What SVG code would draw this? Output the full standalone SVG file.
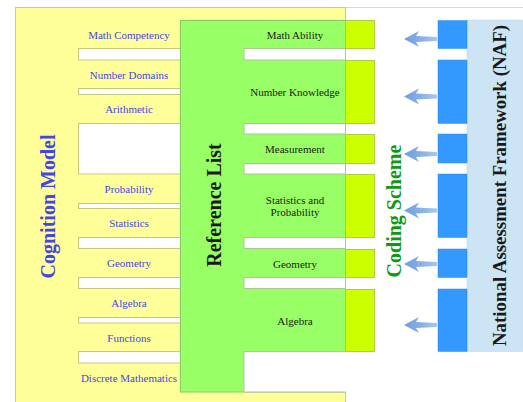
<svg xmlns="http://www.w3.org/2000/svg" width="523" height="402" viewBox="0 0 523 402">
<style>
.lbl{font-family:"Liberation Serif","Times New Roman",serif;font-size:11px;text-anchor:middle}
.blue{fill:#4545e6}
.blk{fill:#1a1a1a}
.title{font-family:"Liberation Serif","Times New Roman",serif;font-weight:bold;font-size:20px;text-anchor:middle}
.gap{fill:#ffffff;stroke:#c8c87a;stroke-width:1}
.ggap{fill:#ffffff;stroke:#a8c890;stroke-width:1}
.lime{fill:#ccff00;stroke:#b0cc44;stroke-width:1}
.bblk{fill:#3399ff;stroke:#2f88e0;stroke-width:0.5}
.arr{fill:url(#ag)}
</style>
<defs>
<linearGradient id="ag" x1="0" y1="0" x2="1" y2="0">
<stop offset="0" stop-color="#6f9edd"/>
<stop offset="0.5" stop-color="#86afe6"/>
<stop offset="1" stop-color="#a9c8f0"/>
</linearGradient>
</defs>
<rect width="523" height="402" fill="#ffffff"/>
<line x1="15" y1="7.5" x2="523" y2="7.5" stroke="#d8d8d8" stroke-width="1"/>

<g id="cognition-model">
<rect x="15.5" y="7.5" width="330" height="400" fill="#ffff99" stroke="#cccc77" stroke-width="1"/>
<rect class="gap" x="78.5" y="48.5" width="110" height="11.5"/>
<rect class="gap" x="78.5" y="88.5" width="110" height="6"/>
<rect class="gap" x="78.5" y="123.5" width="110" height="50.5"/>
<rect class="gap" x="78.5" y="203.5" width="110" height="5"/>
<rect class="gap" x="78.5" y="237.5" width="110" height="11"/>
<rect class="gap" x="78.5" y="277.5" width="110" height="11"/>
<rect class="gap" x="78.5" y="317.5" width="110" height="5.5"/>
<rect class="gap" x="78.5" y="351.5" width="110" height="11.5"/>
<text class="title blue" transform="translate(55,206.5) rotate(-90)" fill="#3333ee">Cognition Model</text>
<text class="lbl blue" x="129" y="38.5">Math Competency</text>
<text class="lbl blue" x="129" y="78.5">Number Domains</text>
<text class="lbl blue" x="129" y="112.5">Arithmetic</text>
<text class="lbl blue" x="129" y="192.5">Probability</text>
<text class="lbl blue" x="129" y="226.5">Statistics</text>
<text class="lbl blue" x="129" y="267">Geometry</text>
<text class="lbl blue" x="129" y="306.5">Algebra</text>
<text class="lbl blue" x="129" y="341.5">Functions</text>
<text class="lbl blue" x="129" y="381.5">Discrete Mathematics</text>
</g>

<g id="reference-list">
<rect x="180.5" y="20.5" width="165" height="371.5" fill="#99ff66" stroke="#88cc66" stroke-width="1"/>
<rect class="ggap" x="244" y="48.5" width="101.5" height="11.5"/>
<rect class="ggap" x="244" y="123.5" width="101.5" height="10.5"/>
<rect class="ggap" x="244" y="163.5" width="101.5" height="10.5"/>
<rect class="ggap" x="244" y="237.5" width="101.5" height="11"/>
<rect class="ggap" x="244" y="277.5" width="101.5" height="11"/>
<rect x="244" y="351.5" width="101.5" height="40.5" fill="#ffffff" stroke="#bbbbbb" stroke-width="1"/>
<rect x="345" y="352" width="2" height="39.5" fill="#ffffff"/>
<text class="title blk" transform="translate(221,205) rotate(-90)">Reference List</text>
<text class="lbl blk" x="295" y="38.5">Math Ability</text>
<text class="lbl blk" x="295" y="95.5">Number Knowledge</text>
<text class="lbl blk" x="295" y="152.5">Measurement</text>
<text class="lbl blk" x="295" y="204">Statistics and</text>
<text class="lbl blk" x="295" y="215.5">Probability</text>
<text class="lbl blk" x="295" y="267.5">Geometry</text>
<text class="lbl blk" x="295" y="324.5">Algebra</text>
</g>

<g id="coding-scheme">
<rect class="lime" x="345.5" y="20.5" width="29" height="28"/>
<rect class="lime" x="345.5" y="60.5" width="29" height="63"/>
<rect class="lime" x="345.5" y="134.5" width="29" height="29"/>
<rect class="lime" x="345.5" y="174.5" width="29" height="63"/>
<rect class="lime" x="345.5" y="249.5" width="29" height="28"/>
<rect class="lime" x="345.5" y="289.5" width="29" height="62"/>
<text class="title" transform="translate(400.5,211) rotate(-90)" fill="#119911">Coding Scheme</text>
</g>

<g id="naf">
<rect x="467" y="20" width="56" height="331.5" fill="#cce4f4" stroke="#c0d4e4" stroke-width="0.5"/>
<rect class="bblk" x="438" y="20.5" width="29" height="28"/>
<rect class="bblk" x="438" y="60" width="29" height="63.5"/>
<rect class="bblk" x="438" y="134" width="29" height="29"/>
<rect class="bblk" x="438" y="174" width="29" height="63.5"/>
<rect class="bblk" x="438" y="249" width="29" height="28.5"/>
<rect class="bblk" x="438" y="289" width="29" height="62.5"/>
<text class="title blk" transform="translate(506,185.5) rotate(-90)" style="font-size:19px" textLength="321" lengthAdjust="spacingAndGlyphs">National Assessment Framework (NAF)</text>
</g>

<g id="connectors">
<path class="arr" d="M404,39 L419,31 L416,36 L437,37 L437,41 L416,42 L419,47 Z"/>
<path class="arr" d="M404,96.5 L419,88.5 L416,93.5 L437,94.5 L437,98.5 L416,99.5 L419,104.5 Z"/>
<path class="arr" d="M404,154 L419,146 L416,151 L437,152 L437,156 L416,157 L419,162 Z"/>
<path class="arr" d="M404,210.5 L419,202.5 L416,207.5 L437,208.5 L437,212.5 L416,213.5 L419,218.5 Z"/>
<path class="arr" d="M404,264 L419,256 L416,261 L437,262 L437,266 L416,267 L419,272 Z"/>
<path class="arr" d="M404,325 L419,317 L416,322 L437,323 L437,327 L416,328 L419,333 Z"/>
</g>
</svg>
